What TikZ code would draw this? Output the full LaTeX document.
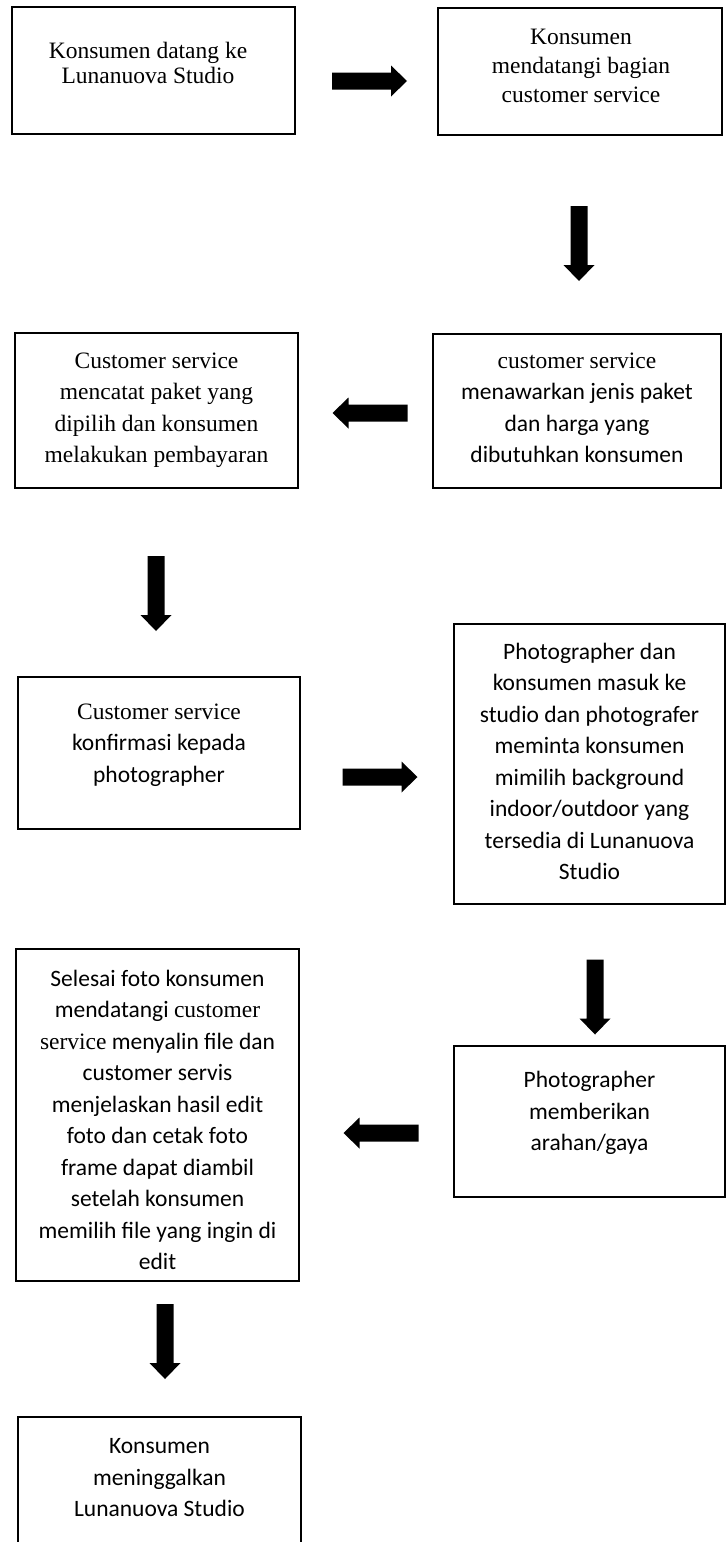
\documentclass[tikz,border=0pt]{standalone}
\usepackage{fontspec}
\setmainfont{Liberation Serif}
\newfontfamily\calfont{Carlito}
\begin{document}
\begin{tikzpicture}[x=1pt,y=-1pt,
  box/.style={draw=black, line width=2.2pt, inner sep=0pt, outer sep=0pt},
  tx/.style={align=center, inner sep=0pt, font=\fontsize{23.5}{31.5}\selectfont},
  txc/.style={align=center, inner sep=0pt, font=\calfont\fontsize{23.5}{31.5}\selectfont},
  rarrow/.pic={\fill (-37.5,-8.5) -- (21.5,-8.5) -- (21.5,-15.5) -- (37.5,0) -- (21.5,15.5) -- (21.5,8.5) -- (-37.5,8.5) -- cycle;},
  larrow/.pic={\fill (37.5,-8.5) -- (-21.5,-8.5) -- (-21.5,-15.5) -- (-37.5,0) -- (-21.5,15.5) -- (-21.5,8.5) -- (37.5,8.5) -- cycle;},
  darrow/.pic={\fill (-8.5,-37.5) -- (-8.5,21.5) -- (-15.5,21.5) -- (0,37.5) -- (15.5,21.5) -- (8.5,21.5) -- (8.5,-37.5) -- cycle;}
]
\useasboundingbox (0,0) rectangle (726,1542);
\clip (0,0) rectangle (726,1542);

% boxes
\node[box, minimum width=283pt, minimum height=127pt] (b1) at (153.5,70.5) {};
\node[box, minimum width=284pt, minimum height=127pt] (b2) at (580,71.5) {};
\node[box, minimum width=283pt, minimum height=155pt] (b3) at (156.5,410.5) {};
\node[box, minimum width=288pt, minimum height=154pt] (b4) at (577,411) {};
\node[box, minimum width=282pt, minimum height=152pt] (b5) at (159,753) {};
\node[box, minimum width=271pt, minimum height=280pt] (b6) at (589.5,764) {};
\node[box, minimum width=271pt, minimum height=151pt] (b7) at (589.5,1121.5) {};
\node[box, minimum width=283pt, minimum height=332pt] (b8) at (157.5,1115) {};
\node[box, minimum width=283pt, minimum height=153pt] (b9) at (159.5,1493.5) {};

% texts
\node[tx, font=\fontsize{23.5}{25}\selectfont] (t1) at (148,66) {\strut Konsumen datang ke\\Lunanuova Studio\strut};
\node[tx, font=\fontsize{23.5}{29}\selectfont] (t2) at (581,68) {\strut Konsumen\\mendatangi bagian\\customer service\strut};
\node[tx] (t3) at (156.5,409) {\strut Customer service\\mencatat paket yang\\dipilih dan konsumen\\melakukan pembayaran\strut};
\node[tx] (t4) at (577,409) {\strut customer service\\{\calfont menawarkan jenis paket}\\{\calfont dan harga yang}\\{\calfont dibutuhkan konsumen}\strut};
\node[tx] (t5) at (159,744.5) {\strut Customer service\\{\calfont konfirmasi kepada}\\{\calfont photographer}\strut};
\node[txc] (t6) at (589.5,763) {\strut Photographer dan\\konsumen masuk ke\\studio dan photografer\\meminta konsumen\\mimilih background\\indoor/outdoor yang\\tersedia di Lunanuova\\Studio\strut};
\node[txc] (t7) at (589.5,1113) {\strut Photographer\\memberikan\\arahan/gaya\strut};
\node[txc] (t8) at (157.5,1121.5) {\strut Selesai foto konsumen\\mendatangi {\rmfamily customer}\\{\rmfamily service} menyalin file dan\\customer servis\\menjelaskan hasil edit\\foto dan cetak foto\\frame dapat diambil\\setelah konsumen\\memilih file yang ingin di\\edit\strut};
\node[txc] (t9) at (159.5,1479) {\strut Konsumen\\meninggalkan\\Lunanuova Studio\strut};

% block arrows
\pic (a1) at (369.5,81) {rarrow};
\pic (a2) at (579,243.5) {darrow};
\pic (a3) at (370,413) {larrow};
\pic (a4) at (156,593.5) {darrow};
\pic (a5) at (380,777) {rarrow};
\pic (a6) at (595,997) {darrow};
\pic (a7) at (381,1133) {larrow};
\pic (a8) at (165,1341.5) {darrow};
\end{tikzpicture}
\end{document}
